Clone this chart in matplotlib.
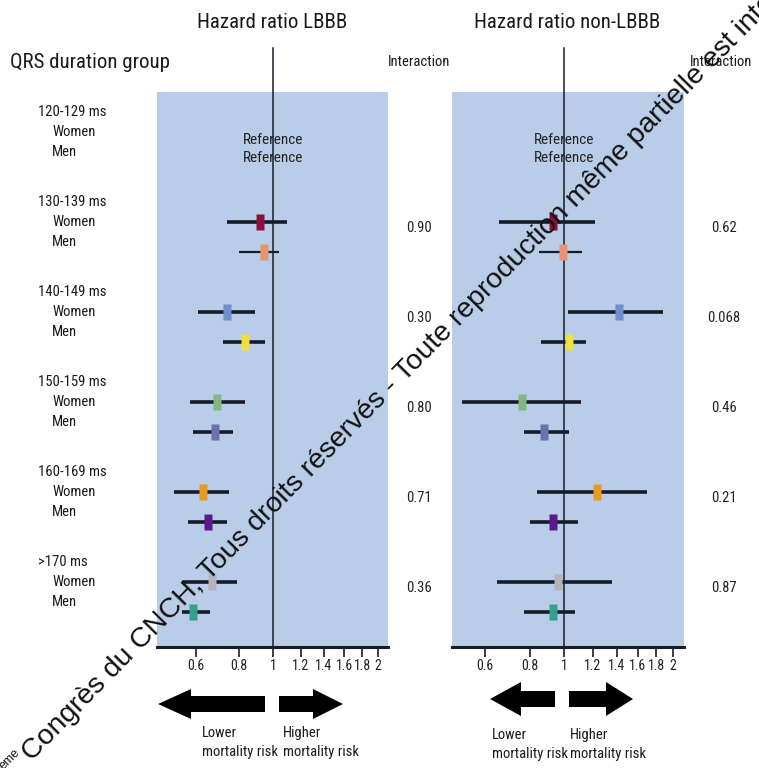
import matplotlib
matplotlib.use("Agg")
import matplotlib.pyplot as plt
from matplotlib.patches import Polygon
from matplotlib.ticker import FixedLocator, NullLocator

# ---------------- data ----------------
groups = ["120-129 ms", "130-139 ms", "140-149 ms", "150-159 ms", "160-169 ms", ">170 ms"]
sexes = ["Women", "Men"]
reference_label = "Reference"

# rows: (130-139 W, M), (140-149 W, M), (150-159 W, M), (160-169 W, M), (>170 W, M)
lbbb_hr = [0.92, 0.94, 0.74, 0.83, 0.69, 0.68, 0.63, 0.65, 0.67, 0.59]
lbbb_lo = [0.74, 0.80, 0.61, 0.72, 0.58, 0.59, 0.52, 0.57, 0.55, 0.55]
lbbb_hi = [1.10, 1.04, 0.89, 0.95, 0.83, 0.77, 0.75, 0.74, 0.79, 0.66]

non_hr = [0.93, 0.99, 1.42, 1.03, 0.76, 0.88, 1.23, 0.93, 0.96, 0.93]
non_lo = [0.66, 0.85, 1.02, 0.86, 0.52, 0.77, 0.84, 0.80, 0.65, 0.77]
non_hi = [1.22, 1.12, 1.88, 1.15, 1.11, 1.03, 1.70, 1.09, 1.36, 1.07]

p_lbbb = ["0.90", "0.30", "0.80", "0.71", "0.36"]
p_non = ["0.62", "0.068", "0.46", "0.21", "0.87"]

tick_values = [0.6, 0.8, 1, 1.2, 1.4, 1.6, 1.8, 2]
tick_labels = ["0.6", "0.8", "1", "1.2", "1.4", "1.6", "1.8", "2"]

marker_colors = ["#8c0f3c", "#e8946e", "#6f8fcf", "#efe03a", "#80b880",
                 "#6a70b0", "#e89a20", "#5b1a8c", "#b4b4bc", "#34a08e"]

# ---------------- style ----------------
W, H = 759, 768
BLUE = "#b9cde9"
DARK = "#161c2a"
FAM = ["Roboto Condensed", "Liberation Sans Narrow", "Roboto", "DejaVu Sans"]
plt.rcParams["font.family"] = FAM
plt.rcParams["font.stretch"] = "condensed"

fig = plt.figure(figsize=(W / 100, H / 100), dpi=100)
fig.patch.set_facecolor("white")


def fx(x):
    return x / W


def fy(y):
    return 1 - y / H


# row positions: group spacing 3, women/men spacing 1
ROW0 = 132.0   # pixel of first women row (reference group)
UNIT = 30.0
TOP, BOT = 92.0, 647.0
ylim = ((BOT - ROW0) / UNIT, (TOP - ROW0) / UNIT)
line_top = (48 - ROW0) / UNIT

rect = [(-0.5, -1), (0.5, -1), (0.5, 1), (-0.5, 1), (-0.5, -1)]


def panel(x0, x1, xlim, hr, lo, hi, pvals, pval_x):
    ax = fig.add_axes([fx(x0), fy(BOT), fx(x1 - x0), (BOT - TOP) / H])
    ax.set_facecolor(BLUE)
    ax.set_xscale("log")
    ax.set_xlim(*xlim)
    ax.set_ylim(*ylim)
    for s in ["top", "left", "right"]:
        ax.spines[s].set_visible(False)
    ax.spines["bottom"].set_linewidth(2.2)
    ax.spines["bottom"].set_color(DARK)
    ax.yaxis.set_major_locator(NullLocator())
    ax.xaxis.set_major_locator(FixedLocator(tick_values))
    ax.xaxis.set_minor_locator(NullLocator())
    ax.set_xticklabels(tick_labels)
    ax.tick_params(axis="x", direction="out", length=7, width=1.2, color=DARK,
                   labelsize=10, pad=2, labelcolor="#222222")
    ax.plot([1, 1], [line_top, ylim[0]], color=DARK, lw=1.1, clip_on=False, zorder=3)
    # reference rows
    ax.text(1, 0.27, reference_label, ha="center", va="center", fontsize=11, color="#222222")
    ax.text(1, 0.87, reference_label, ha="center", va="center", fontsize=11, color="#222222")
    for i in range(len(hr)):
        g = i // 2 + 1
        y = 3 * g + (i % 2)
        lw = 1.6 if i == 1 else 2.6
        ax.plot([lo[i], hi[i]], [y, y], color=DARK, lw=lw, solid_capstyle="butt", zorder=4)
        ax.plot([hr[i]], [y], marker=rect, ms=11, color=marker_colors[i], mec="none", zorder=5)
    for k, p in enumerate(pvals):
        g = k + 1
        fig.text(fx(pval_x), fy(ROW0 + (3 * g + 0.2) * UNIT), p, ha="center", va="center",
                 fontsize=10.5, color="#222222")
    return ax


axL = panel(157, 388, (0.465, 2.136), lbbb_hr, lbbb_lo, lbbb_hi, p_lbbb, 419)
axR = panel(452, 684, (0.487, 2.15), non_hr, non_lo, non_hi, p_non, 724)

# titles
fig.text(fx(272), fy(22), "Hazard ratio LBBB", ha="center", va="center", fontsize=15, color="#1a1a1a")
fig.text(fx(567), fy(22), "Hazard ratio non-LBBB", ha="center", va="center", fontsize=15, color="#1a1a1a")
fig.text(fx(10), fy(62), "QRS duration group", ha="left", va="center", fontsize=15, color="#1a1a1a")
fig.text(fx(419), fy(62), "Interaction", ha="center", va="center", fontsize=10.5, color="#1a1a1a")
fig.text(fx(721), fy(62), "Interaction", ha="center", va="center", fontsize=10.5, color="#1a1a1a")

# group labels
for g, name in enumerate(groups):
    yw = ROW0 + 3 * g * UNIT
    fig.text(fx(38), fy(yw - 20), name, ha="left", va="center", fontsize=10.5, color="#1a1a1a")
    fig.text(fx(52), fy(yw), sexes[0], ha="left", va="center", fontsize=10.5, color="#1a1a1a")
    fig.text(fx(52), fy(yw + 20), sexes[1], ha="left", va="center", fontsize=10.5, color="#1a1a1a")


# arrows
def arrow(tip, base, end, yc, hh, sh):
    pts = [(end, yc - sh), (base, yc - sh), (base, yc - hh), (tip, yc),
           (base, yc + hh), (base, yc + sh), (end, yc + sh)]
    fig.add_artist(Polygon([(fx(x), fy(y)) for x, y in pts], closed=True,
                           transform=fig.transFigure, color="black", lw=0))


arrow(158, 191, 265, 704, 15, 8)
arrow(343, 313, 279, 704, 15, 8)
arrow(490, 521, 555, 699, 17, 8)
arrow(633, 606, 569, 699, 17, 8)

for xl, yl in [(202, 733), (492, 735)]:
    fig.text(fx(xl), fy(yl), "Lower", ha="left", va="center", fontsize=10.5, color="#1a1a1a")
    fig.text(fx(xl), fy(yl + 19), "mortality risk", ha="left", va="center", fontsize=10.5, color="#1a1a1a")
for xl, yl in [(283, 733), (570, 735)]:
    fig.text(fx(xl), fy(yl), "Higher", ha="left", va="center", fontsize=10.5, color="#1a1a1a")
    fig.text(fx(xl), fy(yl + 19), "mortality risk", ha="left", va="center", fontsize=10.5, color="#1a1a1a")

# watermark
wm = "Congrès du CNCH, Tous droits réservés - Toute reproduction même partielle est interdite"
fig.text(fx(32), fy(762), wm, rotation=45.5, rotation_mode="anchor", ha="left", va="baseline",
         fontsize=20.5, family=["Liberation Sans", "DejaVu Sans"], fontstretch="normal", color="#111111")
fig.text(fx(4), fy(770), "ème", rotation=45.5, rotation_mode="anchor", ha="left", va="baseline",
         fontsize=9, family=["Liberation Sans", "DejaVu Sans"], fontstretch="normal", color="#111111")

fig.savefig("out.png", dpi=100, facecolor="white")
